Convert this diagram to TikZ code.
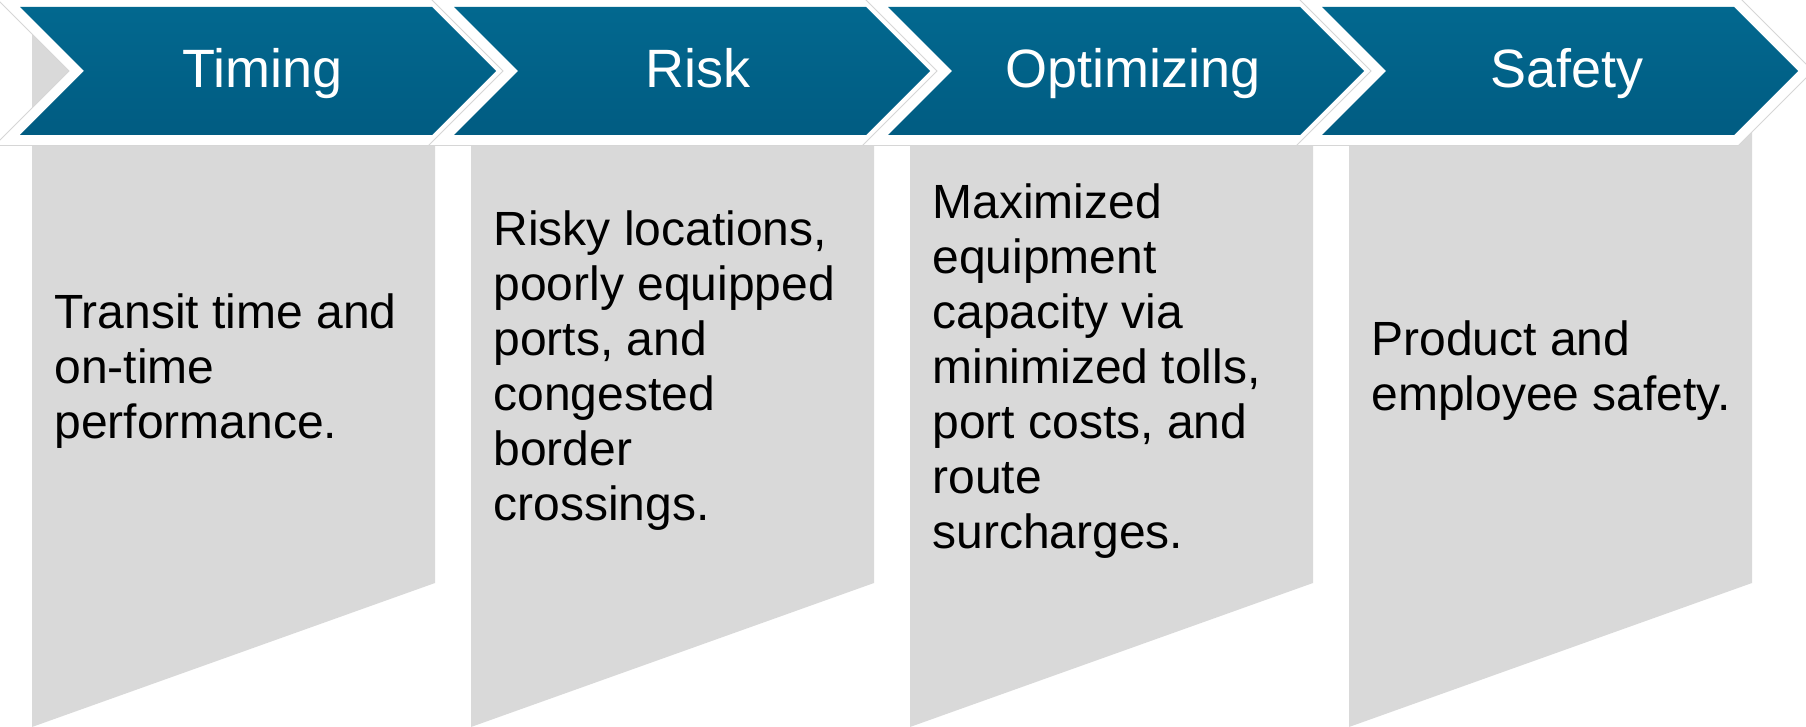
\documentclass[tikz,border=0pt]{standalone}
\usepackage{fontspec}
\setmainfont{Liberation Sans}
\definecolor{chevtop}{HTML}{02688F}
\definecolor{chevbot}{HTML}{015C82}
\definecolor{panelgray}{HTML}{D9D9D9}
\definecolor{rimgray}{HTML}{D6D6D6}
\begin{document}
\begin{tikzpicture}[x=0.5pt, y=-0.5pt,
        panel/.style={fill=panelgray, draw=none},
        chev/.style={preaction={draw=rimgray, line width=11pt, line join=miter},
                     preaction={draw=white, line width=10pt, line join=miter},
                     top color=chevtop, bottom color=chevbot, draw=none},
        head/.style={anchor=base, text=white, inner sep=0pt, font=\fontsize{27}{32}\selectfont},
        body/.style={anchor=west, align=left, inner sep=0pt, font=\fontsize{24}{27.5}\selectfont}
      ]
      \useasboundingbox (0,0) rectangle (1806,727);
      \path[panel] (32,20) -- (435,20) -- (435,583) -- (32,727) -- cycle;
      \path[panel] (471,20) -- (874,20) -- (874,583) -- (471,727) -- cycle;
      \path[panel] (910,20) -- (1313,20) -- (1313,583) -- (910,727) -- cycle;
      \path[panel] (1349,20) -- (1752,20) -- (1752,583) -- (1349,727) -- cycle;
      \path[chev] (20,7) -- (432,7) -- (496,71) -- (432,135) -- (20,135) -- (84,71) -- cycle;
      \path[chev] (454,7) -- (866,7) -- (930,71) -- (866,135) -- (454,135) -- (518,71) -- cycle;
      \path[chev] (888,7) -- (1300,7) -- (1364,71) -- (1300,135) -- (888,135) -- (952,71) -- cycle;
      \path[chev] (1322,7) -- (1734,7) -- (1798,71) -- (1734,135) -- (1322,135) -- (1386,71) -- cycle;
      \node[head] (timing) at (263,88) {Timing};
      \node[head] (risk) at (698,88) {Risk};
      \node[head] (optimizing) at (1133,88) {Optimizing};
      \node[head] (safety) at (1567,88) {Safety};
      \node[body] (timingtxt) at (54,371) {Transit time and\\on-time\\performance.};
      \node[body] (risktxt) at (493,371) {Risky locations,\\poorly equipped\\ports, and\\congested\\border\\crossings.};
      \node[body] (optimizingtxt) at (932,371) {Maximized\\equipment\\capacity via\\minimized tolls,\\port costs, and\\route\\surcharges.};
      \node[body] (safetytxt) at (1371,371) {Product and\\employee safety.};
    \end{tikzpicture}
\end{document}
